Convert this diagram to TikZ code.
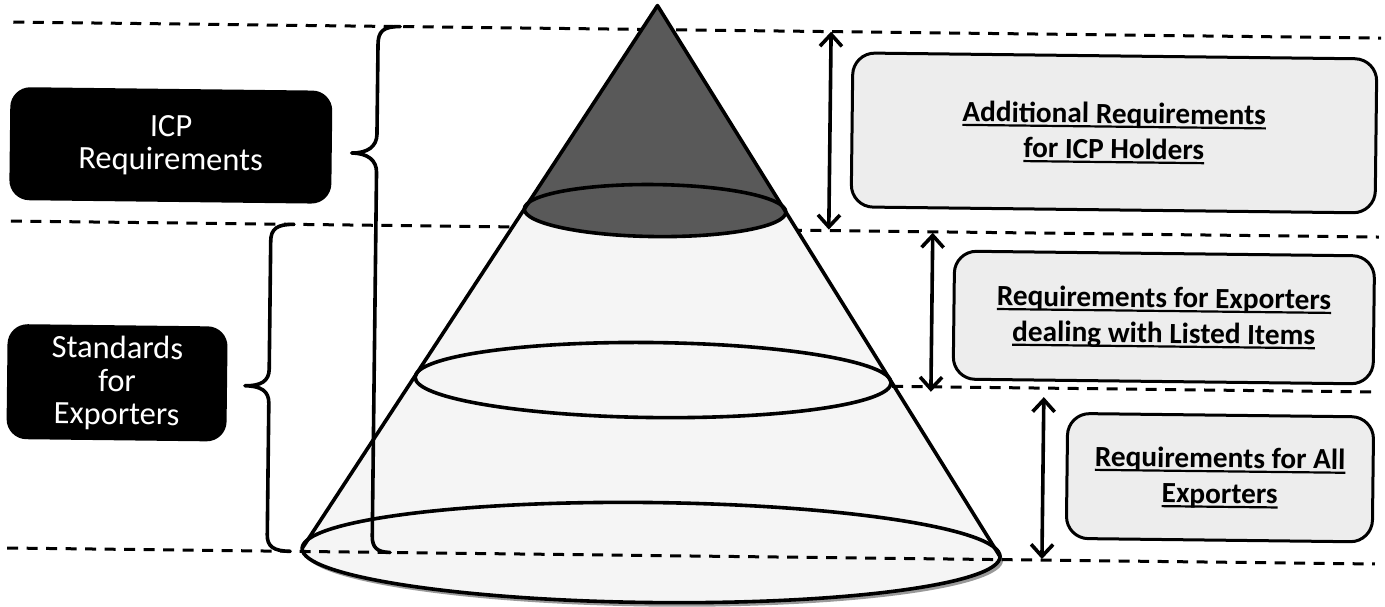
\documentclass[tikz,border=0pt]{standalone}
\usepackage{fontspec}
\setmainfont{Carlito}
\usetikzlibrary{arrows.meta}
\newcommand\myul[1]{\setbox0=\hbox{#1}\rlap{\rule[-4.5pt]{\wd0}{2.2pt}}\box0}
\tikzset{
  dashline/.style={line width=3pt, dash pattern=on 11pt off 8.5pt},
  outline/.style={line width=3.6pt, line join=round},
  bracepath/.style={line width=3.6pt, line cap=round, line join=round},
  blackbox/.style={fill=black, rounded corners=20pt, inner sep=0pt, text=white,
     align=center, font=\fontsize{32.5}{33}\selectfont},
  greybox/.style={fill=black!7, draw=black, line width=3pt, rounded corners=22pt,
     inner sep=0pt, align=center, font=\fontsize{29.3}{35.5}\selectfont\bfseries},
  dblarrow/.style={line width=3.6pt, {Straight Barb[length=12pt,width=22pt]}-{Straight Barb[length=12pt,width=22pt]}}
}
\begin{document}
\begin{tikzpicture}[x=1pt,y=-1pt]
\useasboundingbox (0,0) rectangle (1385,607);
\begin{scope}[rotate around={-0.67:(692,303)}, transform shape]
% dashed lines behind the cone
\draw[dashline] (10,30) -- (1378,30);
\draw[dashline] (10,229) -- (1378,229);
% base shadow
\fill[black!40] (657,557) ellipse [x radius=349, y radius=50];
% light cone
\fill[black!4] (654,6) -- (305,553) -- (1003,553) -- cycle;
\fill[black!4] (654,553) ellipse [x radius=349, y radius=50];
% dark top
\fill[black!65] (654,6) -- (523.2,211) -- (784.8,211) -- cycle;
\fill[black!65] (654,211) ellipse [x radius=130.8, y radius=26];
% outlines
\draw[outline] (305,553) -- (654,6) -- (1003,553);
\draw[outline] (654,553) ellipse [x radius=349, y radius=50];
\draw[outline] (654,380.5) ellipse [x radius=238, y radius=37.5];
\draw[outline] (654,211) ellipse [x radius=130.8, y radius=26];
% dashed lines in front
\draw[dashline] (893,384) -- (1378,384);
\draw[dashline] (10,556) -- (1378,556);
% braces
\draw[bracepath] (397,30) .. controls (380,30) and (375,35) .. (375,48) -- (375,138)
   .. controls (375,150) and (366,157) .. (350,157) .. controls (366,157) and (375,164) .. (375,176)
   -- (375,540) .. controls (375,551) and (380,556) .. (393,556);
\draw[bracepath] (293,229) .. controls (276,229) and (270,234) .. (270,246) -- (270,374)
   .. controls (270,386) and (262,391) .. (246,391) .. controls (262,391) and (270,396) .. (270,408)
   -- (270,540) .. controls (270,551) and (276,556) .. (293,556);
% left black boxes
\node[blackbox, minimum width=322pt, minimum height=113pt] (icp) at (169,151.5) {ICP\\Requirements};
\node[blackbox, minimum width=220pt, minimum height=115pt] (std) at (118,389.5) {Standards\\for\\Exporters};
% right grey boxes
\node[greybox, minimum width=524pt, minimum height=154pt] (boxa) at (1112,128)
   {\myul{Additional Requirements}\\\myul{for ICP Holders}};
\node[greybox, minimum width=420pt, minimum height=128pt] (boxb) at (1164,312)
   {\myul{Requirements for Exporters}\\\myul{dealing with Listed Items}};
\node[greybox, minimum width=306pt, minimum height=125pt] (boxc) at (1222,471.5)
   {\myul{Requirements for All}\\\myul{Exporters}};
% arrows
\coordinate (a1t) at (828,30);
\coordinate (a1b) at (828,228);
\coordinate (a2t) at (932,230);
\coordinate (a2b) at (932,389);
\coordinate (a3t) at (1045,393);
\coordinate (a3b) at (1045,555);
\draw[dblarrow] (a1t) -- (a1b);
\draw[dblarrow] (a2t) -- (a2b);
\draw[dblarrow] (a3t) -- (a3b);
\end{scope}
\end{tikzpicture}
\end{document}
